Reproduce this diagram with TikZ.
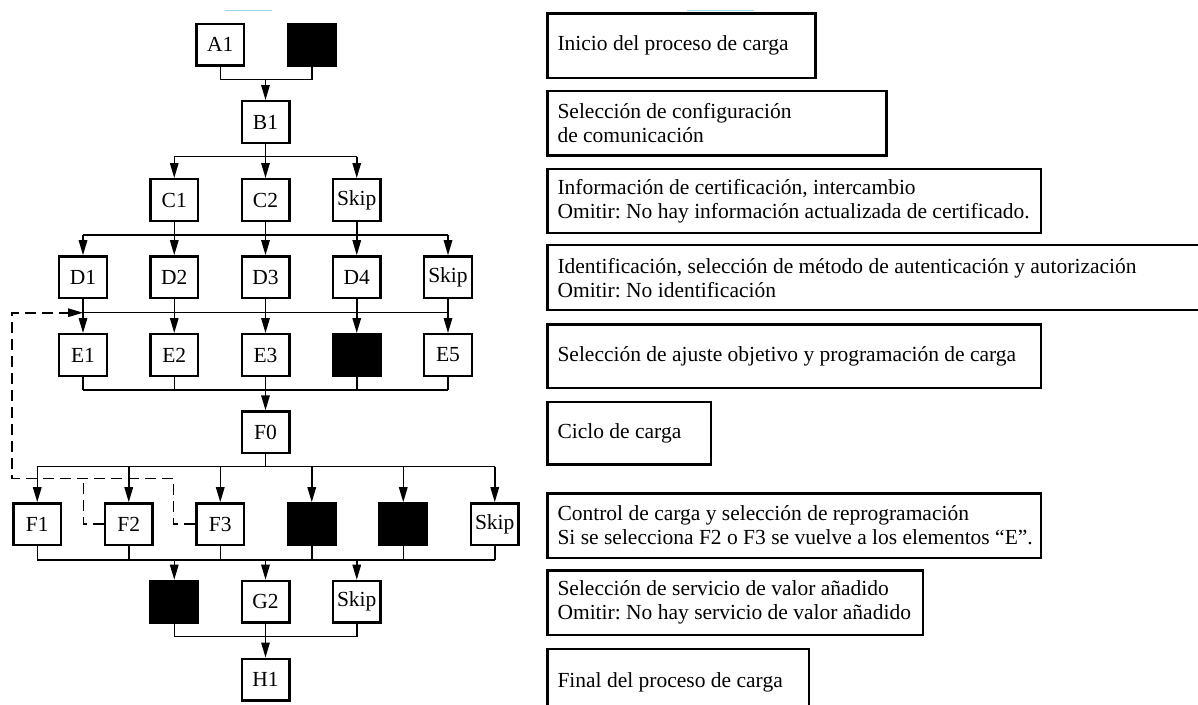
\documentclass[tikz,border=0pt]{standalone}
\usepackage{fontspec}
\setmainfont{Liberation Serif}
\usetikzlibrary{arrows.meta}
\definecolor{artblue}{RGB}{160,215,240}
\frenchspacing
\begin{document}
\begin{tikzpicture}[x=1pt,y=-1pt,
  box/.style={draw, line width=2.4pt, minimum width=47.6pt, minimum height=41.6pt, inner sep=0pt, font=\fontsize{21.5}{24}\selectfont},
  blk/.style={box, fill=black},
  descbox/.style={draw, line width=2.2pt, anchor=north west, inner sep=0pt},
  dtext/.style={anchor=west, inner sep=0pt, align=left, font=\fontsize{21.5}{24}\selectfont},
  conn/.style={line width=1.5pt, line join=miter},
  arr/.style={conn, -{Triangle[length=15pt,width=8.5pt]}},
  dsh/.style={line width=1.6pt, dash pattern=on 11pt off 6pt},
]
\fill[white] (0,0) rectangle (1198,704);
\useasboundingbox (0,0) rectangle (1198,704);

% faint artefact lines at the top
\draw[artblue, line width=1.5pt] (225,10.7) -- (272,10.7);
\draw[artblue, line width=1.5pt] (687,10.7) -- (754,10.7);

% level coordinates
\coordinate (yA) at (0,79.7);
\coordinate (yC) at (0,156.7);
\coordinate (yD) at (0,235);
\coordinate (yE) at (0,312.7);
\coordinate (yEj) at (0,390);
\coordinate (yF) at (0,466.7);
\coordinate (yFj) at (0,560);
\coordinate (yGj) at (0,636.7);

% nodes
\node[box] (a1) at (220.25,44.7) {A1};
\node[blk] (a0) at (311.75,44.7) {};
\node[box] (b1) at (265.5,122) {B1};
\node[box] (c1) at (174.25,200) {C1};
\node[box] (c2) at (265.5,200) {C2};
\node[box] (c3) at (356.75,200) {Skip};
\node[box] (d1) at (83,277.2) {D1};
\node[box] (d2) at (174.25,277.2) {D2};
\node[box] (d3) at (265.5,277.2) {D3};
\node[box] (d4) at (356.75,277.2) {D4};
\node[box] (d5) at (448,277.2) {Skip};
\node[box] (e1) at (83,355) {E1};
\node[box] (e2) at (174.25,355) {E2};
\node[box] (e3) at (265.5,355) {E3};
\node[blk] (e4) at (356.75,355) {};
\node[box] (e5) at (448,355) {E5};
\node[box] (f0) at (265.5,432.3) {F0};
\node[box] (f1) at (37.25,524.2) {F1};
\node[box] (f2) at (128.75,524.2) {F2};
\node[box] (f3) at (220.25,524.2) {F3};
\node[blk] (f4) at (311.75,524.2) {};
\node[blk] (f5) at (403.25,524.2) {};
\node[box] (f6) at (494.75,524.2) {Skip};
\node[blk] (g1) at (174.25,601.7) {};
\node[box] (g2) at (265.5,601.7) {G2};
\node[box] (g3) at (356.75,601.7) {Skip};
\node[box] (h1) at (265.5,679.5) {H1};

% A -> B
\draw[conn] (a1.south) |- (a0.south |- yA) -- (a0.south);
\draw[arr] (b1.north |- yA) -- (b1.north);
% B -> C
\draw[conn] (b1.south) -- (b1.south |- yC);
\draw[conn] (c1.north |- yC) -- (c3.north |- yC);
\foreach \n in {c1,c2,c3} \draw[arr] (\n.north |- yC) -- (\n.north);
% C -> D
\foreach \n in {c1,c2,c3} \draw[conn] (\n.south) -- (\n.south |- yD);
\draw[conn] (d1.north |- yD) -- (d5.north |- yD);
\foreach \n in {d1,d2,d3,d4,d5} \draw[arr] (\n.north |- yD) -- (\n.north);
% D -> E
\foreach \n in {d1,d2,d3,d4,d5} \draw[conn] (\n.south) -- (\n.south |- yE);
\draw[conn] (d1.south |- yE) -- (d5.south |- yE);
\foreach \n in {e1,e2,e3,e4,e5} \draw[arr] (\n.north |- yE) -- (\n.north);
% E -> F0
\foreach \n in {e1,e2,e3,e4,e5} \draw[conn] (\n.south) -- (\n.south |- yEj);
\draw[conn] (e1.south |- yEj) -- (e5.south |- yEj);
\draw[arr] (f0.north |- yEj) -- (f0.north);
% F0 -> F
\draw[conn] (f0.south) -- (f0.south |- yF);
\draw[conn] (f1.north |- yF) -- (f6.north |- yF);
\foreach \n in {f1,f2,f3,f4,f5,f6} \draw[arr] (\n.north |- yF) -- (\n.north);
% F -> G
\foreach \n in {f1,f2,f3,f4,f5,f6} \draw[conn] (\n.south) -- (\n.south |- yFj);
\draw[conn] (f1.south |- yFj) -- (f6.south |- yFj);
\foreach \n in {g1,g2,g3} \draw[arr] (\n.north |- yFj) -- (\n.north);
% G -> H
\foreach \n in {g1,g2,g3} \draw[conn] (\n.south) -- (\n.south |- yGj);
\draw[conn] (g1.south |- yGj) -- (g3.south |- yGj);
\draw[arr] (h1.north |- yGj) -- (h1.north);

% dashed return path
\coordinate (dk1) at (83.3,478.3);
\coordinate (dk2) at (173.3,478.3);
\coordinate (dbot) at (12,478.3);
\coordinate (dtop) at (12,312.7);
\draw[dsh] (f2.west) -| (dk1);
\draw[dsh, -{Triangle[length=15pt,width=8.5pt]}] (f3.west) -| (dk2) -- (dbot) -- (dtop) -- (d1.south |- yE);

% description boxes
\node[descbox, minimum width=268pt, minimum height=64.4pt] (t1) at (546.3,12.3) {};
\node[dtext] at ([xshift=11pt]t1.west) {Inicio del proceso de carga};
\node[descbox, minimum width=339pt, minimum height=64.3pt] (t2) at (546.3,90) {};
\node[dtext] at ([xshift=11pt]t2.west) {Selección de configuración\\de comunicación};
\node[descbox, minimum width=493.2pt, minimum height=64pt] (t3) at (546.3,167.7) {};
\node[dtext] at ([xshift=11pt]t3.west) {Información de certificación, intercambio\\Omitir: No hay información actualizada de certificado.};
\node[descbox, minimum width=700pt, minimum height=65pt] (t4) at (546.3,244) {};
\node[dtext] at ([xshift=11pt]t4.west) {Identificación, selección de método de autenticación y autorización\\Omitir: No identificación};
\node[descbox, minimum width=493.2pt, minimum height=63.4pt] (t5) at (546.3,323.3) {};
\node[dtext] at ([xshift=11pt]t5.west) {Selección de ajuste objetivo y programación de carga};
\node[descbox, minimum width=163.3pt, minimum height=62.6pt] (t6) at (546.3,400.7) {};
\node[dtext] at ([xshift=11pt]t6.west) {Ciclo de carga};
\node[descbox, minimum width=493.2pt, minimum height=64.4pt] (t7) at (546.3,492.3) {};
\node[dtext] at ([xshift=11pt]t7.west) {Control de carga y selección de reprogramación\\Si se selecciona F2 o F3 se vuelve a los elementos “E”.};
\node[descbox, minimum width=375.6pt, minimum height=64.7pt] (t8) at (546.3,569.3) {};
\node[dtext] at ([xshift=11pt]t8.west) {Selección de servicio de valor añadido\\Omitir: No hay servicio de valor añadido};
\node[descbox, minimum width=261.7pt, minimum height=68pt] (t9) at (546.3,647.7) {};
\node[dtext] at ([xshift=11pt]t9.west) {Final del proceso de carga};
\end{tikzpicture}
\end{document}
